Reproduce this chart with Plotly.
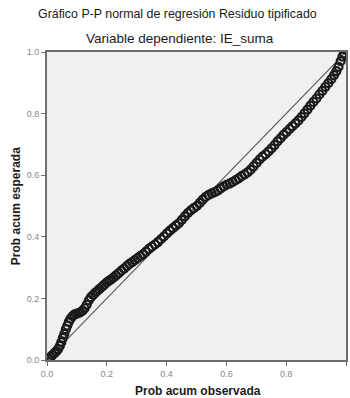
import plotly.graph_objects as go

# Observed vs expected cumulative probabilities of the standardized residuals
prob_observada = [
    0.005, 0.012, 0.018, 0.025, 0.031, 0.037, 0.043, 0.048, 0.053, 0.058,
    0.063, 0.068, 0.073, 0.079, 0.085, 0.091, 0.098, 0.105, 0.112, 0.119,
    0.126, 0.133, 0.140, 0.147, 0.154, 0.161, 0.168, 0.175, 0.183, 0.191,
    0.199, 0.207, 0.215, 0.223, 0.231, 0.240, 0.249, 0.258, 0.267, 0.276,
    0.285, 0.294, 0.303, 0.312, 0.321, 0.331, 0.341, 0.351, 0.361, 0.371,
    0.381, 0.391, 0.401, 0.411, 0.421, 0.431, 0.441, 0.451, 0.461, 0.471,
    0.481, 0.491, 0.501, 0.511, 0.521, 0.531, 0.541, 0.551, 0.561, 0.571,
    0.581, 0.591, 0.601, 0.611, 0.621, 0.631, 0.641, 0.651, 0.661, 0.671,
    0.681, 0.691, 0.701, 0.711, 0.721, 0.731, 0.741, 0.751, 0.761, 0.771,
    0.781, 0.791, 0.801, 0.811, 0.821, 0.831, 0.841, 0.851, 0.861, 0.871,
    0.881, 0.891, 0.901, 0.911, 0.921, 0.931, 0.941, 0.951, 0.960, 0.968,
    0.975, 0.982, 0.988, 0.994,
]
prob_esperada = [
    0.004, 0.010, 0.016, 0.022, 0.028, 0.035, 0.046, 0.058, 0.072, 0.085,
    0.100, 0.112, 0.124, 0.134, 0.142, 0.147, 0.150, 0.152, 0.155, 0.160,
    0.168, 0.180, 0.194, 0.204, 0.211, 0.218, 0.224, 0.230, 0.237, 0.244,
    0.251, 0.257, 0.262, 0.268, 0.275, 0.282, 0.290, 0.297, 0.305, 0.312,
    0.318, 0.324, 0.331, 0.337, 0.343, 0.352, 0.361, 0.368, 0.375, 0.383,
    0.392, 0.401, 0.411, 0.420, 0.428, 0.436, 0.444, 0.455, 0.466, 0.477,
    0.486, 0.493, 0.500, 0.510, 0.521, 0.530, 0.536, 0.541, 0.545, 0.550,
    0.557, 0.564, 0.569, 0.573, 0.578, 0.584, 0.590, 0.597, 0.603, 0.609,
    0.618, 0.629, 0.640, 0.651, 0.660, 0.668, 0.677, 0.687, 0.698, 0.710,
    0.720, 0.731, 0.740, 0.750, 0.759, 0.768, 0.778, 0.789, 0.801, 0.813,
    0.826, 0.838, 0.849, 0.862, 0.874, 0.887, 0.899, 0.912, 0.925, 0.938,
    0.952, 0.970, 0.985, 0.996,
]

# Reference line y = x
linea_ref = [0.0, 1.0]

tick_vals = [0.0, 0.2, 0.4, 0.6, 0.8, 1.0]
tick_text = ["0.0", "0.2", "0.4", "0.6", "0.8", "1.0"]

titulo = "Gráfico P-P normal de regresión Residuo tipificado"
subtitulo = "Variable dependiente: IE_suma"
titulo_x = "Prob acum observada"
titulo_y = "Prob acum esperada"

FONT = "Liberation Sans, Arial, sans-serif"

# Plot-area geometry in pixels
W, H = 350, 398
ML, MR, MT, MB = 47, 2, 52, 38
PW = W - ML - MR
PH = H - MT - MB


def px_x(px):
    return (px - ML) / PW


def px_y(py):
    return (H - MB - py) / PH


fig = go.Figure()
fig.add_trace(go.Scatter(
    x=linea_ref, y=linea_ref, mode="lines",
    line=dict(color="#5a5a5a", width=1.2),
    hoverinfo="skip", showlegend=False,
))
fig.add_trace(go.Scatter(
    x=prob_observada, y=prob_esperada, mode="markers",
    marker=dict(symbol="circle-open", size=8, color="#1a1a1a",
                line=dict(width=2.2, color="#1a1a1a")),
    showlegend=False,
))

axis_common = dict(
    range=[0, 1], tickvals=tick_vals, ticktext=tick_text,
    showgrid=False, zeroline=False,
    showline=True, linecolor="#6e6e6e", linewidth=2, mirror=True,
    ticks="outside", ticklen=4, tickcolor="#6e6e6e", tickwidth=1,
    tickfont=dict(family=FONT, size=9, color="#888888"),
)

fig.update_layout(
    width=W, height=H,
    margin=dict(l=ML, r=MR, t=MT, b=MB),
    paper_bgcolor="white", plot_bgcolor="#f0f0f0",
    xaxis=dict(**axis_common),
    yaxis=dict(**axis_common),
    font=dict(family=FONT),
    annotations=[
        dict(text=titulo, x=px_x(178), y=px_y(14),
             xref="paper", yref="paper", showarrow=False,
             xanchor="center", yanchor="middle",
             font=dict(size=12.4, color="#1a1a1a", family=FONT)),
        dict(text=subtitulo, x=px_x(181), y=px_y(38),
             xref="paper", yref="paper", showarrow=False,
             xanchor="center", yanchor="middle",
             font=dict(size=13.5, color="#1a1a1a", family=FONT)),
        dict(text="<b>" + titulo_x + "</b>", x=px_x(199), y=px_y(391),
             xref="paper", yref="paper", showarrow=False,
             xanchor="center", yanchor="middle",
             font=dict(size=12, color="#1a1a1a", family=FONT)),
        dict(text="<b>" + titulo_y + "</b>", x=px_x(16), y=px_y(206),
             xref="paper", yref="paper", showarrow=False, textangle=-90,
             xanchor="center", yanchor="middle",
             font=dict(size=12, color="#1a1a1a", family=FONT)),
    ],
)

fig.write_html("out.html")
